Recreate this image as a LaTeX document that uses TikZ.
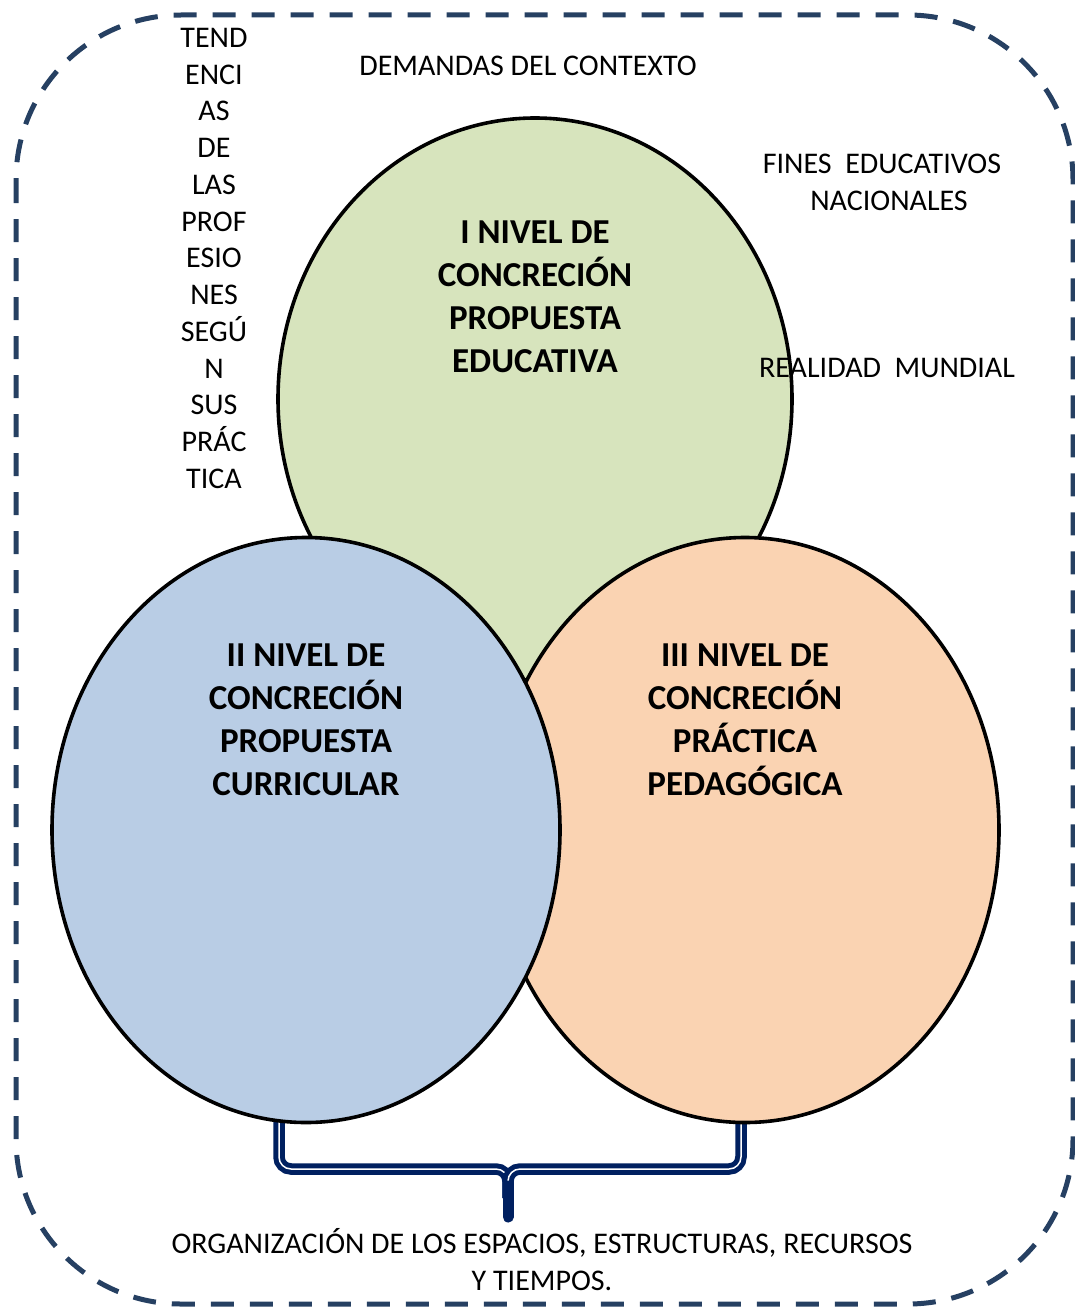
\documentclass[tikz,border=0pt]{standalone}
\usepackage{fontspec}
\setmainfont{Carlito}
\usetikzlibrary{shapes.geometric,positioning}
\definecolor{verdeclaro}{HTML}{D7E4BD}
\definecolor{azulclaro}{HTML}{B9CDE5}
\definecolor{naranjaclaro}{HTML}{FAD3B2}
\definecolor{azulborde}{RGB}{38,64,98}
\definecolor{azulllave}{RGB}{0,32,96}

\begin{document}
\begin{tikzpicture}
[   x=1pt, y=-1pt,
    nivel/.style={draw=black, line width=3.6pt, ellipse, inner sep=0pt},
    titulo/.style={font=\fontsize{35}{43}\selectfont\bfseries, align=center, inner sep=0pt},
    rotulo/.style={font=\fontsize{30}{36.75}\selectfont, align=center, inner sep=0pt},
    llave/.style={draw=azulllave, line width=5pt, double=white, double distance=1.5pt, rounded corners=12pt}, ]
    \useasboundingbox (0,0) rectangle (1075,1308);
    \draw[azulborde, line width=5pt, dash pattern=on 23pt off 16pt, rounded corners=165pt] (16,15) rectangle (1073,1304);

    \coordinate (llave-izq) at (279,1100);
    \coordinate (llave-der) at (741,1100);
    \coordinate (llave-cen) at (508,1198);
    \coordinate (llave-punta) at (508,1217);
    \draw[llave] (llave-izq) -- (279,1169) -- (508,1169) -- (llave-cen);
    \draw[llave] (llave-der) -- (741,1169) -- (508,1169) -- (llave-cen);
    \draw[azulllave, line width=11pt, line cap=round] (508,1186) -- (llave-punta);

    \node[nivel, fill=verdeclaro, minimum width=514pt, minimum height=562pt] (nivelI) at (535,399) {};
    \node[nivel, fill=naranjaclaro, minimum width=508pt, minimum height=585pt] (nivelIII) at (745,830) {};
    \node[nivel, fill=azulclaro, minimum width=508pt, minimum height=585pt] (nivelII) at (306,830) {};

    \node[titulo, anchor=north, below=104pt of nivelI.north] (tituloI) {I NIVEL DE\\CONCRECIÓN\\PROPUESTA\\EDUCATIVA};
    \node[titulo, anchor=north, below=108pt of nivelII.north] (tituloII) {II NIVEL DE\\CONCRECIÓN\\PROPUESTA\\CURRICULAR};
    \node[titulo, anchor=north, below=108pt of nivelIII.north] (tituloIII) {III NIVEL DE\\CONCRECIÓN\\PRÁCTICA\\PEDAGÓGICA};

    \node[rotulo, anchor=north] (tendencias) at (214,28) {TEND\\ENCI\\AS\\DE\\LAS\\PROF\\ESIO\\NES\\SEGÚ\\N\\SUS\\PRÁC\\TICA};
    \node[rotulo] (demandas) at (528,66) {DEMANDAS DEL CONTEXTO};
    \node[rotulo, anchor=north] (fines) at (882,154) {FINES~~EDUCATIVOS\\\hspace*{14pt}NACIONALES};
    \node[rotulo] (realidad) at (887,368) {REALIDAD~~MUNDIAL};
    \node[rotulo, anchor=south] (organizacion) at (542,1291) {ORGANIZACIÓN DE LOS ESPACIOS, ESTRUCTURAS, RECURSOS\\Y TIEMPOS.};

\end{tikzpicture}
\end{document}
